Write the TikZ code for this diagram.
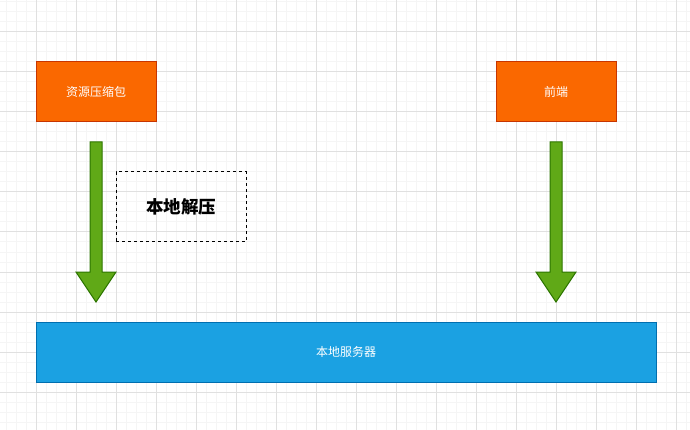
\documentclass[tikz,border=0pt]{standalone}
\usepackage{fontspec}
\newfontfamily\cjk{Noto Sans CJK SC}
\usepackage{xcolor}
\usetikzlibrary{arrows.meta}

\definecolor{boxorange}{HTML}{FA6800}
\definecolor{lineorange}{HTML}{C73500}
\definecolor{boxgreen}{HTML}{60A917}
\definecolor{linegreen}{HTML}{2D7600}
\definecolor{boxblue}{HTML}{1BA1E2}
\definecolor{lineblue}{HTML}{006EAF}
\definecolor{gridminor}{HTML}{F5F5F5}
\definecolor{gridmajor}{HTML}{E0E0E0}

\tikzset{
  orangebox/.style={draw=lineorange, fill=boxorange, text=white,
    minimum width=120pt, minimum height=60pt, inner sep=0pt, font=\cjk\fontsize{12}{14}\selectfont},
  bluebox/.style={draw=lineblue, fill=boxblue, text=white,
    minimum width=620pt, minimum height=60pt, inner sep=0pt, font=\cjk\fontsize{12}{14}\selectfont},
  notebox/.style={draw=black, dashed, minimum width=130pt, minimum height=70pt,
    inner sep=0pt, font=\cjk\bfseries\fontsize{17.5}{20}\selectfont},
  arrowfill/.style={draw=linegreen, fill=boxgreen, line join=miter},
}

\begin{document}
\begin{tikzpicture}[x=1pt, y=-1pt, line width=1pt]

  % -- page and grid -------------------------------------------------------
  \useasboundingbox (0,0) rectangle (690,430);
  \fill[white] (0,0) rectangle (690,430);
  \foreach \gx in {6,16,...,686} \draw[gridminor] (\gx,0) -- (\gx,430);
  \foreach \gy in {2,12,...,422} \draw[gridminor] (0,\gy) -- (690,\gy);
  \foreach \gx in {36,76,...,676} \draw[gridmajor] (\gx,0) -- (\gx,430);
  \foreach \gy in {32,72,...,392} \draw[gridmajor] (0,\gy) -- (690,\gy);

  % -- boxes ----------------------------------------------------------------
  \node[orangebox] (pack) at (96,92) {资源压缩包};
  \node[orangebox] (front) at (556,92) {前端};
  \node[bluebox] (server) at (346,352) {本地服务器};
  \node[notebox] (unzip) at (181,207) {本地解压};

  % -- block arrows down to the server ------------------------------------
  \foreach \ax/\aname in {96/left, 556/right} {
    \coordinate (\aname top) at (\ax,142);
    \coordinate (\aname tip) at (\ax,302);
    \filldraw[arrowfill] (\aname top) ++(-6,0) -- ++(12,0) -- ++(0,130)
      -- ++(14,0) -- (\aname tip) -- ++(-20,-30) -- ++(14,0) -- cycle;
  }

\end{tikzpicture}
\end{document}
